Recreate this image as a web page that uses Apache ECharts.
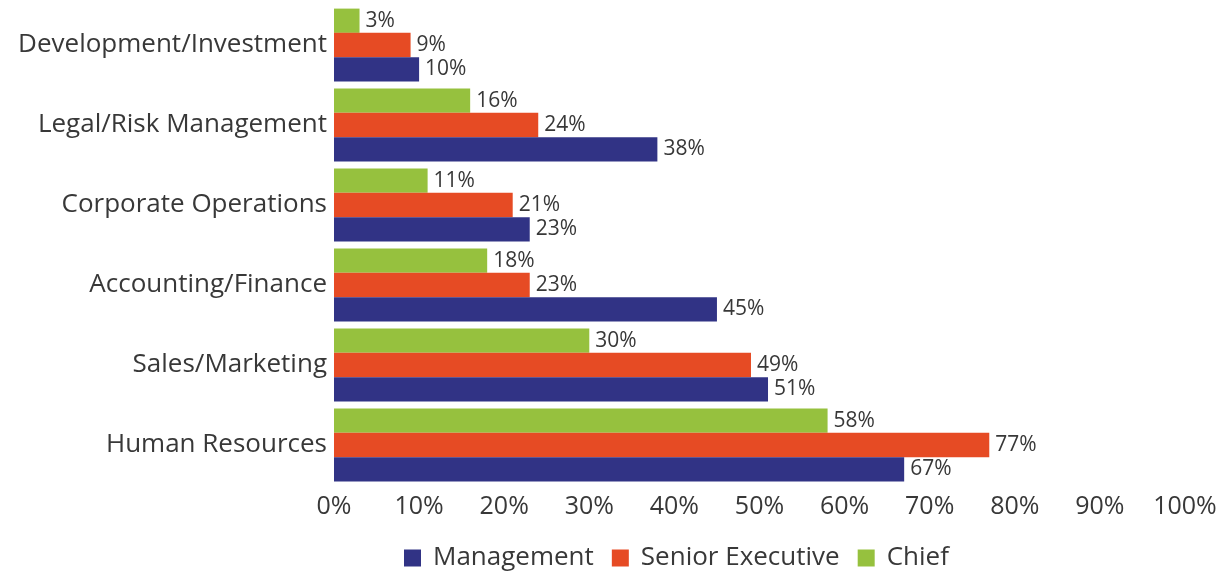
<!DOCTYPE html>
<html>
<head>
<meta charset="utf-8">
<script src="https://cdn.jsdelivr.net/npm/echarts@6/dist/echarts.min.js"></script>
<style>
  html, body { margin: 0; padding: 0; background: #fff; }
  #chart { width: 1228px; height: 573px; }
</style>
</head>
<body>
<div id="chart"></div>
<script>
// categories, bottom to top
const categories = ['Human Resources', 'Sales/Marketing', 'Accounting/Finance',
  'Corporate Operations', 'Legal/Risk Management', 'Development/Investment'];
const management = [67, 51, 45, 23, 38, 10];
const seniorExecutive = [77, 49, 23, 21, 24, 9];
const chief = [58, 30, 18, 11, 16, 3];

const font = 'Open Sans';
const textColor = '#383838';

let myChart = echarts.init(document.getElementById('chart'));

function barSeries (name, data, color) {
  return {
    name: name,
    type: 'bar',
    data: data,
    barGap: 0,
    barCategoryGap: '9%',
    itemStyle: { color: color },
    label: {
      show: true,
      position: 'right',
      distance: 6,
      formatter: '{c}%',
      fontFamily: font,
      fontSize: 21,
      color: textColor
    }
  };
}

myChart.setOption({
  animation: false,
  textStyle: { fontFamily: font },
  grid: {
    left: 334,
    top: 5,
    width: 851,
    height: 480
  },
  legend: {
    left: 399,
    top: 540,
    itemWidth: 17,
    itemHeight: 17,
    itemGap: 18,
    icon: 'rect',
    textStyle: {
      fontFamily: font,
      fontSize: 26,
      color: textColor,
      padding: [0, 0, 0, 7]
    },
    data: ['Management', 'Senior Executive', 'Chief']
  },
  xAxis: {
    type: 'value',
    min: 0,
    max: 100,
    interval: 10,
    axisLine: { show: false },
    axisTick: { show: false },
    splitLine: { show: false },
    axisLabel: {
      formatter: '{value}%',
      margin: 9,
      fontFamily: font,
      fontSize: 25,
      color: textColor
    }
  },
  yAxis: {
    type: 'category',
    data: categories,
    axisLine: { show: false },
    axisTick: { show: false },
    axisLabel: {
      margin: 7,
      fontFamily: font,
      fontSize: 26,
      color: textColor
    }
  },
  // first series is drawn at the top of each band
  series: [
    barSeries('Chief', chief, '#96c13e'),
    barSeries('Senior Executive', seniorExecutive, '#e64b24'),
    barSeries('Management', management, '#313385')
  ]
});
</script>
</body>
</html>
